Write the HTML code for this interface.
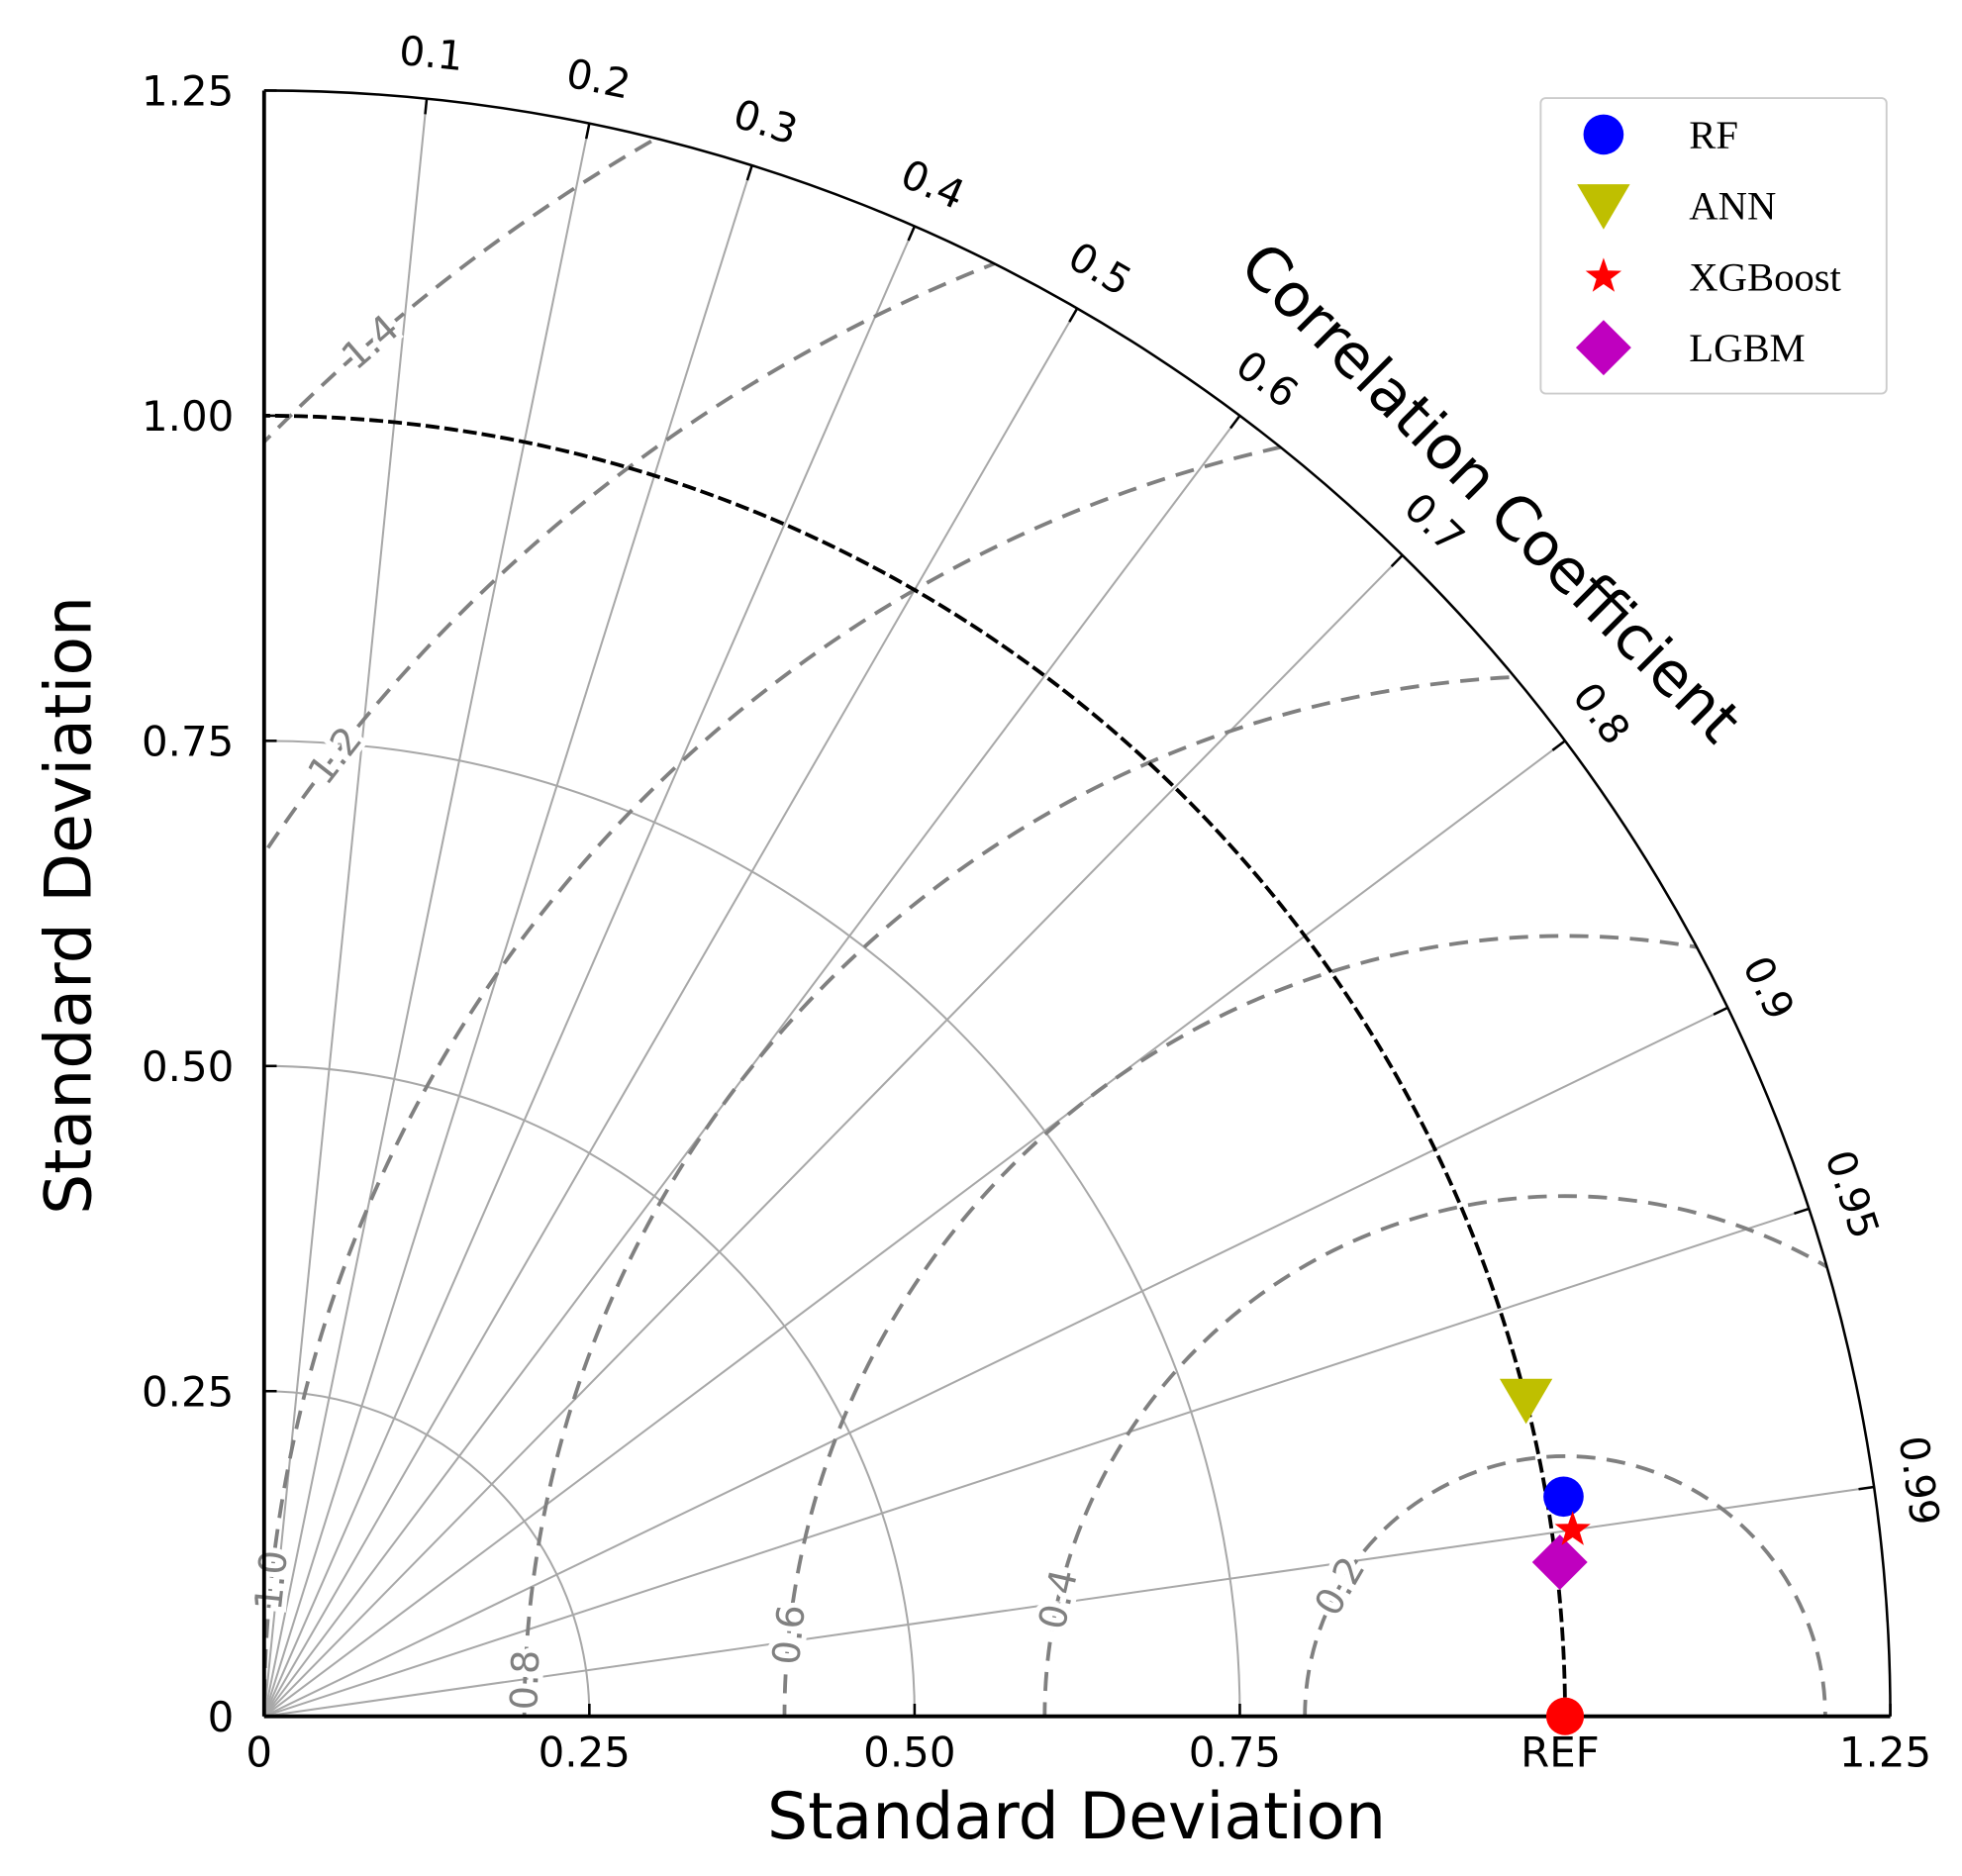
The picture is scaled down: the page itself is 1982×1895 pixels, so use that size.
<!DOCTYPE html>
<html><head><meta charset="utf-8"><style>
html,body{margin:0;padding:0;background:#fff;width:1982px;height:1895px;overflow:hidden;}
svg{display:block;}
</style></head><body>
<svg id="chart" xmlns="http://www.w3.org/2000/svg" width="1982" height="1895" viewBox="0 0 1560 1492" preserveAspectRatio="none" font-family="DejaVu Sans, Liberation Sans, sans-serif">
<defs><clipPath id="quad"><path id="quadpath"/></clipPath></defs>
<g id="grid"></g><g id="rms"></g><g id="axes"></g><g id="marks"></g>
<g id="legend"></g>
</svg>
<script>
const modelNames = ["RF","ANN","XGBoost","LGBM"];
const modelStd = [1.013, 1.000, 1.016, 1.003];
const modelCorr = [0.986, 0.970, 0.990, 0.993];
const refStd = 1.0;
const corrTicks = [0.1,0.2,0.3,0.4,0.5,0.6,0.7,0.8,0.9,0.95,0.99];
const corrTickLabels = ["0.1","0.2","0.3","0.4","0.5","0.6","0.7","0.8","0.9","0.95","0.99"];
const stdTicks = [0,0.25,0.5,0.75,1.0,1.25];
const yTickLabels = ["0","0.25","0.50","0.75","1.00","1.25"];
const xTickLabels = ["0","0.25","0.50","0.75","REF","1.25"];
const stdArcs = [0.25,0.5,0.75];
const rmsLevels = [0.2,0.4,0.6,0.8,1.0,1.2,1.4];
const rmsLabels = ["0.2","0.4","0.6","0.8","1.0","1.2","1.4"];
const rmsLabelAngles = [150,167,174,178,174,142,131];

const NS="http://www.w3.org/2000/svg";
const OX=210, OY=1365, SMAX=1.25, RPX=1293;
const sc=v=>v*RPX/SMAX;
const X=(x)=>OX+sc(x), Y=(y)=>OY-sc(y);
function polar(r,c){const t=Math.acos(c);return [X(r*Math.cos(t)),Y(r*Math.sin(t))];}
function mk(tag,attrs,parent){const e=document.createElementNS(NS,tag);for(const k in attrs)e.setAttribute(k,attrs[k]);parent.appendChild(e);return e;}
const grid=document.getElementById('grid'),rms=document.getElementById('rms'),axes=document.getElementById('axes'),marks=document.getElementById('marks'),legend=document.getElementById('legend');
function arcPath(r){return `M${X(r)},${OY} A${sc(r)},${sc(r)} 0 0 0 ${OX},${Y(r)}`;}
document.getElementById('quadpath').setAttribute('d',`M${OX},${OY} L${X(SMAX)},${OY} A${RPX},${RPX} 0 0 0 ${OX},${Y(SMAX)} Z`);

stdArcs.forEach(r=>{const p=mk('path',{d:arcPath(r),fill:'none',stroke:'#a8a8a8','stroke-width':1.6},grid);

});
corrTicks.forEach((c,i)=>{const [x,y]=polar(SMAX,c);
const l=mk('line',{x1:OX,y1:OY,x2:x,y2:y,stroke:'#a8a8a8','stroke-width':1.6},grid);


const [tx,ty]=polar(SMAX-0.012,c);
const tk=mk('line',{x1:x,y1:y,x2:tx,y2:ty,stroke:'#000','stroke-width':2},axes);


const [lx,ly]=polar(1.285,c);const rot=90-Math.acos(c)*180/Math.PI;
const t=mk('text',{x:lx,y:ly,'font-size':32,'text-anchor':'middle','dominant-baseline':'central',transform:`rotate(${rot} ${lx} ${ly})`},axes);
t.textContent=corrTickLabels[i];

});
rmsLevels.forEach((r,i)=>{const c=mk('circle',{cx:X(refStd),cy:OY,r:sc(r),fill:'none',stroke:'#808080','stroke-width':3,'stroke-dasharray':'15 9','clip-path':'url(#quad)'},rms);


const a=rmsLabelAngles[i]*Math.PI/180;const lx=X(refStd+r*Math.cos(a)),ly=Y(r*Math.sin(a));
const rot=-(rmsLabelAngles[i]-90);
const t=mk('text',{x:lx,y:ly,'font-size':30,fill:'#808080','text-anchor':'middle','dominant-baseline':'central',stroke:'#fff','stroke-width':8,'paint-order':'stroke',transform:`rotate(${rot} ${lx} ${ly})`},rms);
t.textContent=rmsLabels[i];

});
const ra=mk('path',{d:arcPath(refStd),fill:'none',stroke:'#000','stroke-width':3,'stroke-dasharray':'11 4'},axes);


const oa=mk('path',{d:arcPath(SMAX),fill:'none',stroke:'#000','stroke-width':2},axes);


const xa=mk('line',{x1:OX,y1:OY,x2:X(SMAX),y2:OY,stroke:'#000','stroke-width':3},axes);


const ya=mk('line',{x1:OX,y1:OY,x2:OX,y2:Y(SMAX),stroke:'#000','stroke-width':3},axes);


stdTicks.forEach((s,i)=>{
const tx=mk('line',{x1:X(s),y1:OY,x2:X(s),y2:OY-10,stroke:'#000','stroke-width':2},axes);


const ty=mk('line',{x1:OX,y1:Y(s),x2:OX+10,y2:Y(s),stroke:'#000','stroke-width':2},axes);


const lx=mk('text',{x:X(s)-4,y:OY+40,'font-size':33,'text-anchor':'middle'},axes);lx.textContent=xTickLabels[i];


const ly=mk('text',{x:OX-24,y:Y(s)+12,'font-size':33,'text-anchor':'end'},axes);ly.textContent=yTickLabels[i];

});
const xt=mk('text',{x:856,y:1462,'font-size':51,'text-anchor':'middle'},axes);xt.textContent='Standard Deviation';


const yt=mk('text',{x:72,y:720,'font-size':51,'text-anchor':'middle',transform:'rotate(-90 72 720)'},axes);yt.textContent='Standard Deviation';


const ct=mk('text',{x:1185,y:392,'font-size':48,'text-anchor':'middle','dominant-baseline':'central',transform:'rotate(45 1185 392)'},axes);ct.textContent='Correlation Coefficient';



const colors=["#0000ff","#bfbf00","#ff0000","#bf00bf"];
function marker(i,x,y,s,parent){
 if(i===0)return mk('circle',{cx:x,cy:y,r:16*s,fill:colors[i]},parent);
 if(i===1)return mk('polygon',{points:`${x-21*s},${y-17*s} ${x+21*s},${y-17*s} ${x},${y+19*s}`,fill:colors[i]},parent);
 if(i===2){let p=[];for(let k=0;k<10;k++){const rr=(k%2?6:15)*s,a=-Math.PI/2+k*Math.PI/5;p.push((x+rr*Math.cos(a)).toFixed(1)+','+(y+rr*Math.sin(a)).toFixed(1));}return mk('polygon',{points:p.join(' '),fill:colors[i]},parent);}
 return mk('polygon',{points:`${x},${y-22*s} ${x+22*s},${y} ${x},${y+22*s} ${x-22*s},${y}`,fill:colors[i]},parent);}
const ref=mk('circle',{cx:X(refStd),cy:OY,r:15,fill:'#ff0000'},marks);


[1,0,3,2].forEach(i=>{const [x,y]=polar(modelStd[i],modelCorr[i]);const m=marker(i,x,y,1,marks);

});
const lb=mk('rect',{x:1225,y:78,width:275,height:235,rx:4,fill:'#fff',stroke:'#cccccc','stroke-width':1.5},legend);


modelNames.forEach((n,i)=>{const y=107+i*56.5;const m=marker(i,1275,y,1,legend);


const t=mk('text',{x:1343,y:y+11,'font-size':32,'font-family':'Liberation Serif, serif'},legend);t.textContent=n;

});
</script>
</body></html>
